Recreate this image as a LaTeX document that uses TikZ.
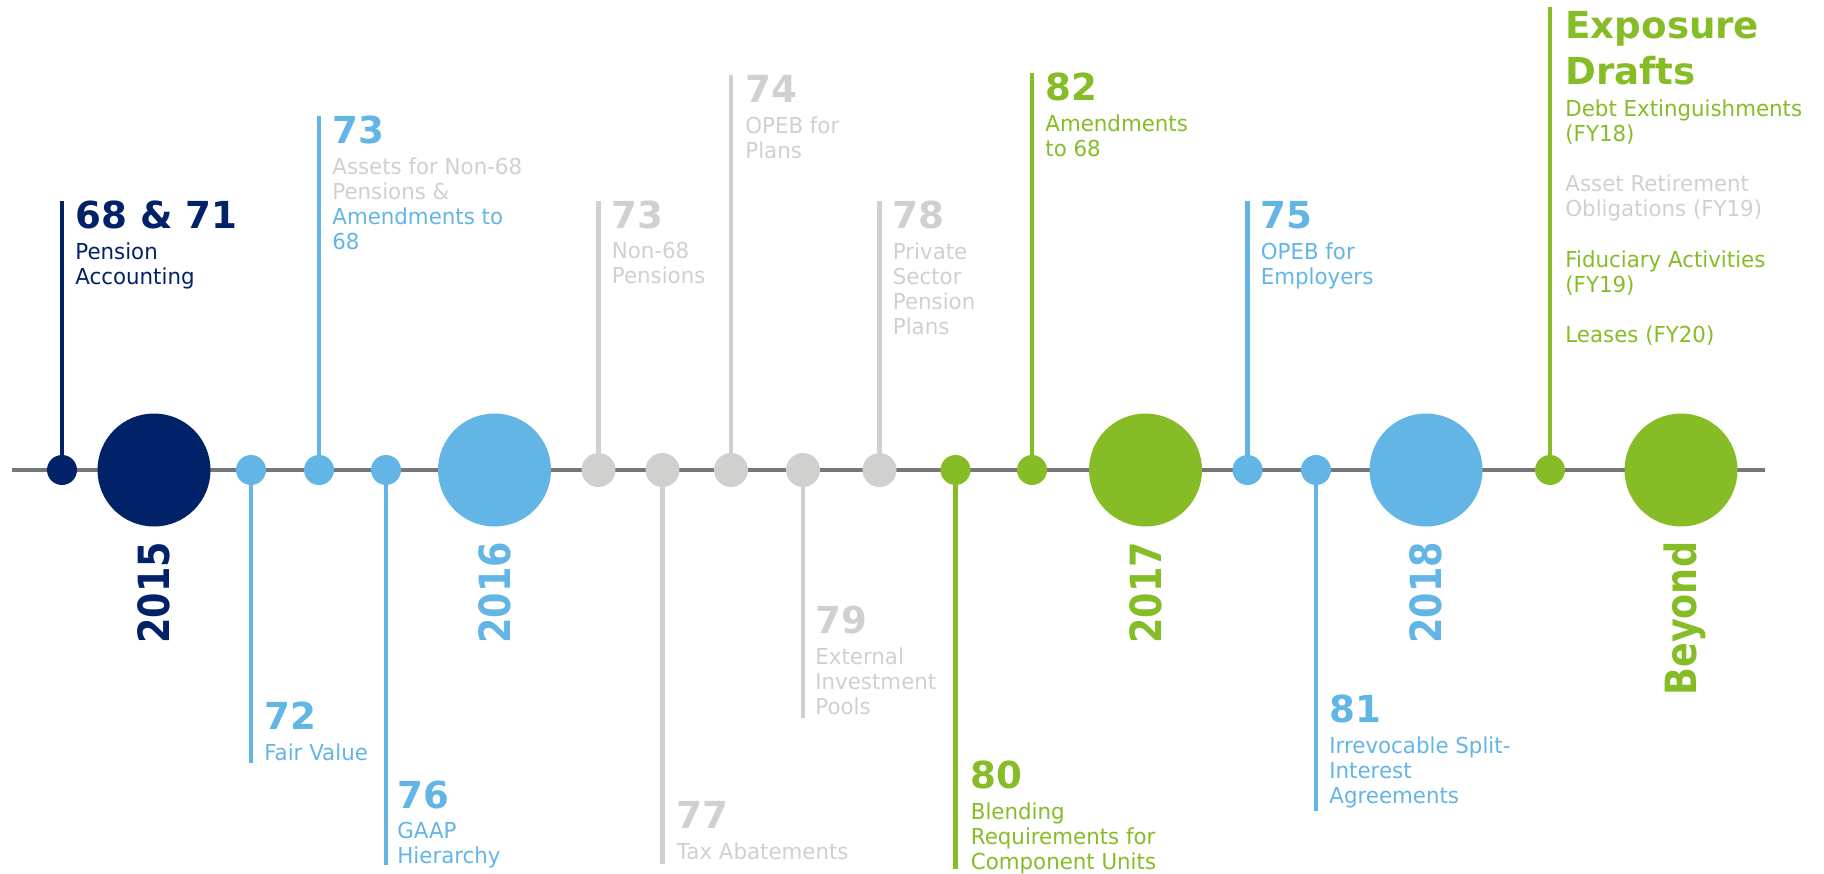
\documentclass[tikz,border=0pt]{standalone}
\usepackage{fontspec}
\setmainfont{DejaVu Sans}
\newfontfamily\descfamily[FakeStretch=0.97]{DejaVu Sans}
\newfontfamily\yearfamily[FakeStretch=0.85]{DejaVu Sans}
\usetikzlibrary{calc,positioning}

\definecolor{dnavy}{HTML}{012169}
\definecolor{lblue}{HTML}{62B5E5}
\definecolor{dgreen}{HTML}{86BC25}
\definecolor{lgray}{HTML}{D0D0CE}
\definecolor{axisgray}{HTML}{75787B}

\tikzset{
  smalldot/.style={circle,fill=#1,inner sep=0pt,minimum size=15pt},
  graydot/.style={circle,fill=lgray,inner sep=0pt,minimum size=17pt},
  bigdot/.style={circle,fill=#1,inner sep=0pt,minimum size=56.5pt},
  stem/.style={draw=#1,line width=2.25pt},
  num/.style={font=\bfseries\fontsize{18.6}{23}\selectfont,text=#1,anchor=base west,inner sep=0pt},
  desc/.style={font=\descfamily\fontsize{11}{12.6}\selectfont,text=#1,align=left,anchor=north west,inner sep=0pt},
  yr/.style={font=\yearfamily\bfseries\fontsize{21.5}{24}\selectfont,text=#1,rotate=90,anchor=east,inner sep=0pt,text height=15.7pt,text depth=0pt},
}

\begin{document}
\begin{tikzpicture}[x=0.5pt,y=-0.5pt]
\useasboundingbox (0,0) rectangle (1824,873);
\coordinate (axl) at (12,470);
\coordinate (axr) at (1765,470);
\draw[axisgray,line width=1.7pt] (axl) -- (axr);

% dots on the axis
\node[smalldot=dnavy] (d68) at (62,470) {};
\node[bigdot=dnavy] (c2015) at (154,470) {};
\node[smalldot=lblue] (d72) at (251,470) {};
\node[smalldot=lblue] (d73a) at (319,470) {};
\node[smalldot=lblue] (d76) at (386,470) {};
\node[bigdot=lblue] (c2016) at (494.5,470) {};
\node[graydot] (d73b) at (598.5,470) {};
\node[graydot] (d77) at (662.5,470) {};
\node[graydot] (d74) at (731,470) {};
\node[graydot] (d79) at (803,470) {};
\node[graydot] (d78) at (879.5,470) {};
\node[smalldot=dgreen] (d80) at (955.5,470) {};
\node[smalldot=dgreen] (d82) at (1032,470) {};
\node[bigdot=dgreen] (c2017) at (1145.5,470) {};
\node[smalldot=lblue] (d75) at (1247.5,470) {};
\node[smalldot=lblue] (d81) at (1316,470) {};
\node[bigdot=lblue] (c2018) at (1426,470) {};
\node[smalldot=dgreen] (dex) at (1550,470) {};
\node[bigdot=dgreen] (cbey) at (1681,470) {};

% years
\node[yr=dnavy] at ($(c2015.south)+(0,14.5)$) (y2015) {2015};
\node[yr=lblue] at ($(c2016.south)+(0,14.5)$) (y2016) {2016};
\node[yr=dgreen] at ($(c2017.south)+(0,14.5)$) (y2017) {2017};
\node[yr=lblue] at ($(c2018.south)+(0,14.5)$) (y2018) {2018};
\node[yr=dgreen] at ($(cbey.south)+(0,14.5)$) (ybey) {Beyond};

% upper labels
\coordinate (s68) at (62,201);
\draw[stem=dnavy] (d68) -- (s68);
\node[num=dnavy] at ($(s68)+(13,27)$) (t68) {68 \& 71};
\node[desc=dnavy] at ($(t68.base west)+(0,14)$) (l68) {Pension\\Accounting};

\coordinate (s73a) at (319,116);
\draw[stem=lblue] (d73a) -- (s73a);
\node[num=lblue] at ($(s73a)+(13,27)$) (t73a) {73};
\node[desc=lgray] at ($(t73a.base west)+(0,14)$) (l73a) {Assets for Non-68\\Pensions \&\\\color{lblue}Amendments to\\\color{lblue}68};

\coordinate (s73b) at (598.5,201);
\draw[stem=lgray] (d73b) -- (s73b);
\node[num=lgray] at ($(s73b)+(13,27)$) (t73b) {73};
\node[desc=lgray] at ($(t73b.base west)+(0,14)$) (l73b) {Non-68\\Pensions};

\coordinate (s74) at (731,75);
\draw[stem=lgray] (d74) -- (s74);
\node[num=lgray] at ($(s74)+(14,27)$) (t74) {74};
\node[desc=lgray] at ($(t74.base west)+(0,14)$) (l74) {OPEB for\\Plans};

\coordinate (s78) at (879.5,201);
\draw[stem=lgray] (d78) -- (s78);
\node[num=lgray] at ($(s78)+(13,27)$) (t78) {78};
\node[desc=lgray] at ($(t78.base west)+(0,14)$) (l78) {Private\\Sector\\Pension\\Plans};

\coordinate (s82) at (1032,73);
\draw[stem=dgreen] (d82) -- (s82);
\node[num=dgreen] at ($(s82)+(13,27)$) (t82) {82};
\node[desc=dgreen] at ($(t82.base west)+(0,14)$) (l82) {Amendments\\to 68};

\coordinate (s75) at (1247.5,201);
\draw[stem=lblue] (d75) -- (s75);
\node[num=lblue] at ($(s75)+(13,27)$) (t75) {75};
\node[desc=lblue] at ($(t75.base west)+(0,14)$) (l75) {OPEB for\\Employers};

\coordinate (sex) at (1550,7);
\draw[stem=dgreen] (dex) -- (sex);
\node[num=dgreen,align=left,anchor=north west] at ($(sex)+(15,4)$) (tex) {Exposure\\Drafts};
\node[desc=dgreen] at ($(tex.south west)+(0,13.5)$) (lex) {Debt Extinguishments\\(FY18)\\[12.6pt]\color{lgray}Asset Retirement\\\color{lgray}Obligations (FY19)\\[12.6pt]Fiduciary Activities\\(FY19)\\[12.6pt]Leases (FY20)};

% lower labels
\coordinate (s72) at (251,763);
\draw[stem=lblue] (d72) -- (s72);
\node[num=lblue] at ($(s72)+(13,-34)$) (t72) {72};
\node[desc=lblue] at ($(t72.base west)+(0,14)$) (l72) {Fair Value};

\coordinate (s76) at (386,865);
\draw[stem=lblue] (d76) -- (s76);
\node[num=lblue] at ($(s76)+(11,-57)$) (t76) {76};
\node[desc=lblue] at ($(t76.base west)+(0,14)$) (l76) {GAAP\\Hierarchy};

\coordinate (s77) at (662.5,864);
\draw[stem=lgray] (d77) -- (s77);
\node[num=lgray] at ($(s77)+(14,-36)$) (t77) {77};
\node[desc=lgray] at ($(t77.base west)+(0,14)$) (l77) {Tax Abatements};

\coordinate (s79) at (803,718);
\draw[stem=lgray] (d79) -- (s79);
\node[num=lgray] at ($(s79)+(12,-85)$) (t79) {79};
\node[desc=lgray] at ($(t79.base west)+(0,14)$) (l79) {External\\Investment\\Pools};

\coordinate (s80) at (955.5,869);
\draw[stem=dgreen] (d80) -- (s80);
\node[num=dgreen] at ($(s80)+(15,-81)$) (t80) {80};
\node[desc=dgreen] at ($(t80.base west)+(0,14)$) (l80) {Blending\\Requirements for\\Component Units};

\coordinate (s81) at (1316,811);
\draw[stem=lblue] (d81) -- (s81);
\node[num=lblue] at ($(s81)+(13,-89)$) (t81) {81};
\node[desc=lblue] at ($(t81.base west)+(0,14)$) (l81) {Irrevocable Split-\\Interest\\Agreements};
\end{tikzpicture}
\end{document}
